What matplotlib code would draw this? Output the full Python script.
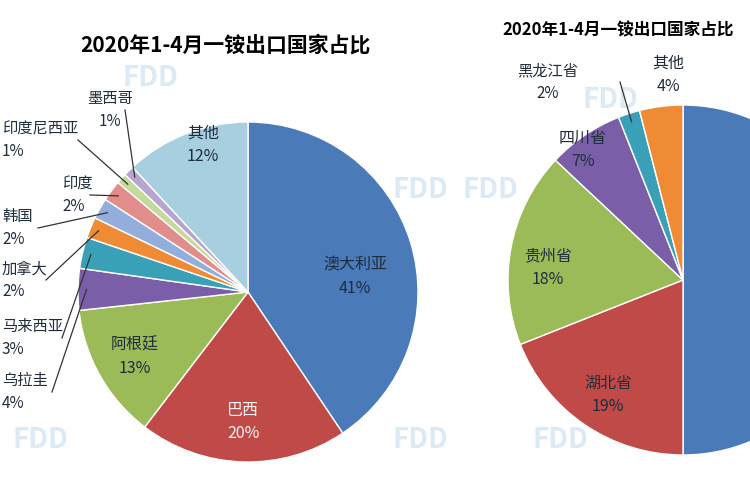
import matplotlib
matplotlib.use("Agg")
import matplotlib.pyplot as plt
import numpy as np

plt.rcParams["font.family"] = ["Noto Sans CJK SC", "DejaVu Sans"]

left_labels = ["澳大利亚", "巴西", "阿根廷", "乌拉圭", "马来西亚", "加拿大", "韩国", "印度", "印度尼西亚", "墨西哥", "其他"]
left_values = [41, 20, 13, 4, 3, 2, 2, 2, 1, 1, 12]
left_colors = ["#4a7ab8", "#bf4a47", "#9bbb59", "#7b5ea8", "#3aa0b8", "#ef8a35", "#93aedb", "#e08d8b", "#c5d99a", "#b6a5cf", "#a7cfe0"]

right_labels = ["云南省", "湖北省", "贵州省", "四川省", "黑龙江省", "其他"]
right_values = [50, 19, 18, 7, 2, 4]
right_colors = ["#4a7ab8", "#bf4a47", "#9bbb59", "#7b5ea8", "#3aa0b8", "#ef8a35"]

title = "2020年1-4月一铵出口国家占比"

W, H = 750, 500
fig = plt.figure(figsize=(7.5, 5), dpi=100)
fig.patch.set_facecolor("white")

def fx(x): return x / W
def fy(y): return 1 - y / H

for (x, y) in [(150, 78), (420, 190), (610, 100), (490, 190), (420, 440), (40, 440), (560, 440)]:
    fig.text(fx(x), fy(y), "FDD", color="#dbeaf4", fontsize=20, fontweight="bold",
             ha="center", va="center", zorder=-1)

axL = fig.add_axes([fx(78), fy(462), fx(340), 340 / H])
wl, _ = axL.pie(left_values, colors=left_colors, startangle=90, counterclock=False,
                wedgeprops=dict(edgecolor="white", linewidth=1))
axL.set_xlim(-1, 1); axL.set_ylim(-1, 1)
axL.set_aspect("equal")

axR = fig.add_axes([fx(508), fy(455), fx(350), 350 / H])
wr, _ = axR.pie(right_values, colors=right_colors, startangle=90, counterclock=False,
                wedgeprops=dict(edgecolor="white", linewidth=1))
axR.set_xlim(-1, 1); axR.set_ylim(-1, 1)
axR.set_aspect("equal")

fig.text(fx(225), fy(45), title, fontsize=15, fontweight="bold", ha="center", va="center")
fig.text(fx(502), fy(30), title, fontsize=12, fontweight="bold", ha="left", va="center")

def lab(x, y, name, v, color="#1f2d3d"):
    fig.text(fx(x), fy(y), f"{name}\n{v}%", fontsize=11.5, ha="center", va="center",
             color=color, linespacing=1.5, zorder=5)

lab(355, 277, left_labels[0], left_values[0])
lab(243, 422, left_labels[1], left_values[1], "#f4f4f4")
lab(135, 357, left_labels[2], left_values[2])
lab(203, 145, left_labels[10], left_values[10])

def leader(ax, wedge, tx, ty, name, v, ha="left", lx=None):
    th = np.deg2rad((wedge.theta1 + wedge.theta2) / 2)
    px, py = 0.95 * np.cos(th), 0.95 * np.sin(th)
    fp = fig.transFigure.inverted().transform(ax.transData.transform((px, py)))
    ex = fx(lx if lx is not None else tx)
    fig.add_artist(plt.Line2D([fp[0], ex], [fp[1], fy(ty)], color="#333333", lw=0.9))
    fig.text(fx(tx), fy(ty), f"{name}\n{v}%", fontsize=11, ha=ha, va="center",
             color="#1f2d3d", linespacing=1.4, zorder=5)

leader(axL, wl[3], 2, 392, left_labels[3], left_values[3], lx=52)
leader(axL, wl[4], 2, 338, left_labels[4], left_values[4], lx=62)
leader(axL, wl[5], 2, 280, left_labels[5], left_values[5], lx=46)
leader(axL, wl[6], 2, 228, left_labels[6], left_values[6], lx=38)
leader(axL, wl[7], 62, 195, left_labels[7], left_values[7], lx=90)
leader(axL, wl[8], 2, 140, left_labels[8], left_values[8], lx=78)
leader(axL, wl[9], 110, 110, left_labels[9], left_values[9], ha="center", lx=125)

lab(608, 395, right_labels[1], right_values[1])
lab(548, 268, right_labels[2], right_values[2])
lab(583, 150, right_labels[3], right_values[3])
lab(668, 75, right_labels[5], right_values[5])
leader(axR, wr[4], 548, 82, right_labels[4], right_values[4], ha="center", lx=620)

fig.savefig("out.png", dpi=100)
